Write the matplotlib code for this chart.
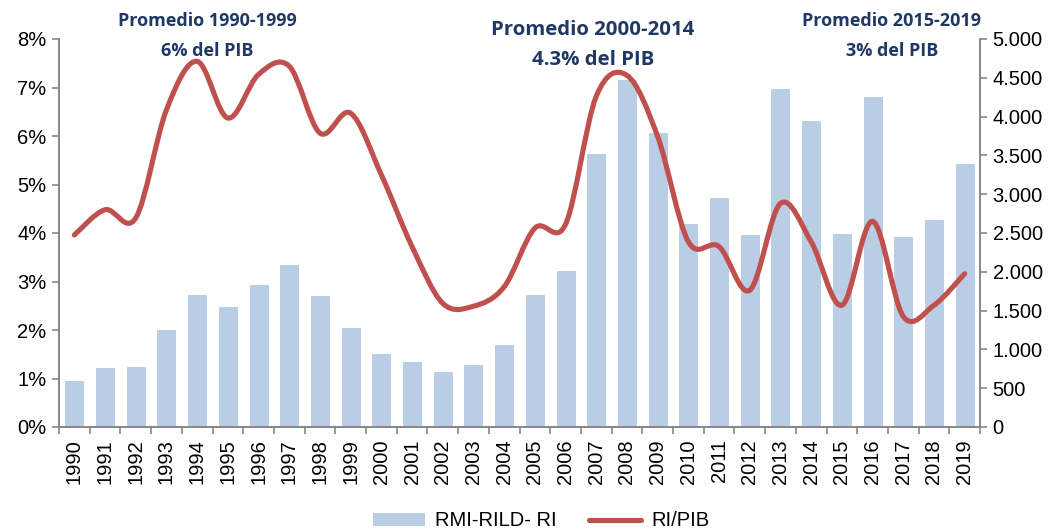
import matplotlib.pyplot as plt
import numpy as np
from matplotlib.path import Path
from matplotlib.patches import PathPatch, Patch
from matplotlib.lines import Line2D
from matplotlib.ticker import FuncFormatter, FixedLocator

plt.rcParams['font.family'] = ['Liberation Sans', 'DejaVu Sans']

anios = list(range(1990, 2020))
rmi_rild_ri = [610, 770, 786, 1259, 1718, 1559, 1839, 2100, 1701, 1285,
               954, 847, 722, 816, 1074, 1714, 2027, 3527, 4485, 3797,
               2629, 2964, 2487, 4364, 3956, 2500, 4265, 2457, 2680, 3402]
ri_pib = [3.96, 4.48, 4.31, 6.54, 7.54, 6.37, 7.27, 7.44, 6.06, 6.47,
          5.2, 3.72, 2.55, 2.49, 2.89, 4.1, 4.18, 6.82, 7.25, 5.99,
          3.82, 3.72, 2.82, 4.61, 3.82, 2.51, 4.24, 2.28, 2.51, 3.16]

promedios = [("Promedio 1990-1999", "6% del PIB", 207, 21, 51, 13),
             ("Promedio 2000-2014", "4.3% del PIB", 593, 30, 60, 14.7),
             ("Promedio 2015-2019", "3% del PIB", 892, 21, 51, 13)]

azul = '#B9CDE5'
rojo = '#C0504D'
gris = '#868686'
titulo = '#1F3864'

fig = plt.figure(figsize=(10.61, 5.29), dpi=100)
ax = fig.add_axes([59/1061, (529-427)/529, (980-59)/1061, (427-39)/529])
ax2 = ax.twinx()

x = np.arange(len(anios))
ax2.bar(x, rmi_rild_ri, width=0.65, color=azul, edgecolor='white', linewidth=0.8, zorder=1)
ax2.set_ylim(0, 5000)
ax2.yaxis.set_major_locator(FixedLocator(range(0, 5001, 500)))
ax2.yaxis.set_major_formatter(FuncFormatter(lambda v, p: f"{int(v):,}".replace(",", ".")))

# linea suavizada (estilo Excel) con curvas de Bezier
y = np.array(ri_pib)
xp = np.concatenate([[x[0]], x, [x[-1]]])
yp = np.concatenate([[y[0]], y, [y[-1]]])
verts = [(x[0], y[0])]
codes = [Path.MOVETO]
for i in range(len(x) - 1):
    c1 = (xp[i+1] + (xp[i+2] - xp[i]) / 6, yp[i+1] + (yp[i+2] - yp[i]) / 6)
    c2 = (xp[i+2] - (xp[i+3] - xp[i+1]) / 6, yp[i+2] - (yp[i+3] - yp[i+1]) / 6)
    verts += [c1, c2, (x[i+1], y[i+1])]
    codes += [Path.CURVE4] * 3

ax.set_zorder(ax2.get_zorder() + 1)
ax.patch.set_visible(False)
ax.add_patch(PathPatch(Path(verts, codes), facecolor='none', edgecolor=rojo,
                       linewidth=3.7, capstyle='round', joinstyle='round'))
ax.set_ylim(0, 8)
ax.set_xlim(-0.5, len(anios) - 0.5)
ax.yaxis.set_major_locator(FixedLocator(range(0, 9)))
ax.yaxis.set_major_formatter(FuncFormatter(lambda v, p: f"{int(v)}%"))

ax.set_xticks(x)
ax.set_xticklabels([str(a) for a in anios], rotation=90)
ax.set_xticks(np.arange(-0.5, len(anios)), minor=True)
ax.tick_params(axis='x', which='major', length=0, labelsize=14.5, pad=9)
ax.tick_params(axis='x', which='minor', length=5, width=1.2, color=gris)
ax.tick_params(axis='y', length=5, width=1.2, color=gris, labelsize=14.5, pad=4)
ax2.tick_params(axis='y', length=5, width=1.2, color=gris, labelsize=14.5, pad=4)

for a in (ax, ax2):
    a.spines['top'].set_visible(False)
    for s in ('left', 'right', 'bottom'):
        a.spines[s].set_color(gris)
        a.spines[s].set_linewidth(1.2)

for linea1, linea2, cx, y1, y2, fs in promedios:
    fig.text(cx/1061, 1 - y1/529, linea1, ha='center', va='center', fontsize=fs,
             fontweight='bold', color=titulo, family=['Open Sans', 'DejaVu Sans'])
    fig.text(cx/1061, 1 - y2/529, linea2, ha='center', va='center', fontsize=fs,
             fontweight='bold', color=titulo, family=['Open Sans', 'DejaVu Sans'])

handles = [Patch(facecolor=azul, edgecolor='none'),
           Line2D([0], [0], color=rojo, linewidth=3.7, solid_capstyle='round')]
fig.legend(handles, ['RMI-RILD- RI', 'RI/PIB'], loc='center', bbox_to_anchor=(0.51, 1 - 521/529),
           ncol=2, frameon=False, fontsize=14.5, handlelength=2.6, handleheight=0.6,
           handletextpad=0.5, columnspacing=1.6)

fig.savefig('out.png', dpi=100)
